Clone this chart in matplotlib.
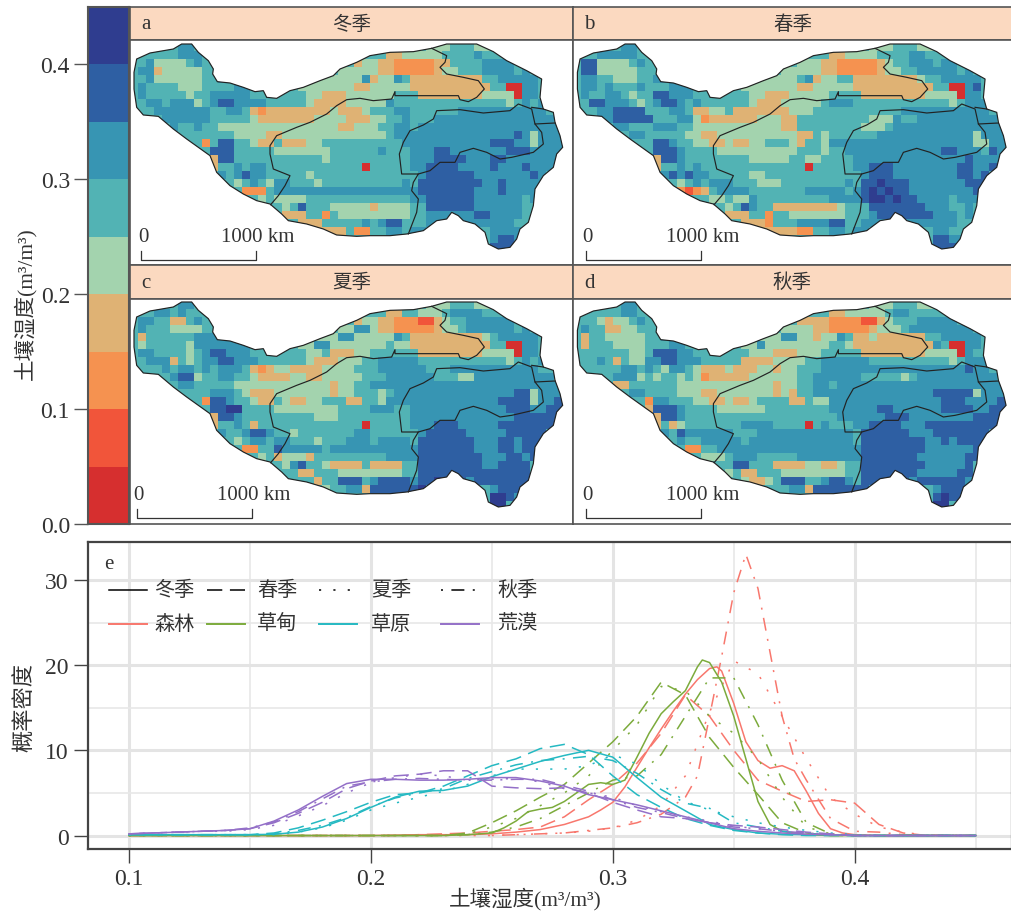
import matplotlib
matplotlib.use('Agg')
import matplotlib.pyplot as plt
from matplotlib.colors import ListedColormap, BoundaryNorm
from matplotlib.lines import Line2D
from matplotlib.patches import Polygon
import numpy as np

plt.rcParams['font.family'] = ['Liberation Serif', 'Noto Sans CJK SC']

W, H = 1012, 912
seasons = ['冬季', '春季', '夏季', '秋季']
letters = ['a', 'b', 'c', 'd']
biomes = ['森林', '草甸', '草原', '荒漠']

class_edges = [0, .05, .1, .15, .2, .25, .3, .35, .4, .45]
class_colors = ['#d62f2f', '#f1553a', '#f59250', '#dfb274', '#a3d3ae',
                '#52b3b4', '#3795b3', '#2e5fa3', '#2f3d8f']
biome_colors = ['#f8776d', '#7cab3c', '#25b9c2', '#9470c8']
text_color = '#333333'

# map cells, one char per cell, index into class_colors, . is no data
winter_cells = [
    '..... 566.. ..... ..... ..... ..... ..... ..444 55544 ..... .....',
    '..555 56665 5.... ..... ..... ..... ..334 44445 55565 5.... .....',
    '.5644 44565 ..... ..... ..... ...34 43322 22233 55556 666.. .....',
    '.6634 44445 5.... ..... ..... .4444 43322 22234 45556 66656 .....',
    '.5644 44445 56... ..... ...44 44446 34465 33333 33335 56666 6....',
    '.6555 54445 55566 5.... .4444 44433 44444 33333 33333 55006 6....',
    '.6555 55455 66666 55... ..443 33444 44455 53333 33334 44406 6....',
    '.5665 66645 67766 66555 55433 33444 44655 55555 55555 55456 56...',
    '.5566 66666 55665 32333 33333 43334 55566 55555 56666 66666 665..',
    '...56 66666 55555 43333 33344 44333 44556 55566 66666 66666 6665.',
    '..... 65565 54444 44444 44444 43344 45566 56666 66666 66666 66666',
    '..... ..555 55544 44334 44444 44444 44566 66666 66666 66676 46666',
    '..... ...52 57755 43353 33445 55555 55556 66666 66666 77766 46666',
    '..... ....5 77755 55544 44444 55555 56555 66677 66666 66777 66666',
    '..... ..... 37755 55555 55554 55555 55555 66677 77666 77666 66666',
    '..... ..... 35565 66555 55555 55550 55555 66777 76666 76667 66676',
    '..... ..... .6567 66555 55455 55555 55555 .6777 77766 66666 76...',
    '..... ..... ..545 65466 55545 55555 55556 .7777 77776 67666 66...',
    '..... ..... ...52 22566 66666 66666 66666 67777 77766 67666 6....',
    '..... ..... ..... .4544 44555 55555 55555 66777 77766 66665 6....',
    '..... ..... ..... ...54 57555 44444 34444 55777 77766 66665 .....',
    '..... ..... ..... ....3 33552 54444 44444 55666 66677 66665 .....',
    '..... ..... ..... ..... .3335 55556 56775 55666 .6666 66655 .....',
    '..... ..... ..... ..... ...33 33522 55665 66... ..... 66665 .....',
    '..... ..... ..... ..... ..... ..... ..... ..... ..... 67765 .....',
    '..... ..... ..... ..... ..... ..... ..... ..... ..... 777.. .....',
]
spring_cells = [
    '..... 566.. ..... ..... ..... ..... ..... ..444 55544 ..... .....',
    '..566 66655 5.... ..... ..... ..... ..334 44455 55665 5.... .....',
    '.7744 44565 ..... ..... ..... ...44 43322 22234 55666 566.. .....',
    '.7744 44455 5.... ..... ..... .4444 43322 22234 45566 66656 .....',
    '.6655 44455 66... ..... ...44 44456 34455 33333 33345 56666 6....',
    '.6656 55565 55666 5.... .4444 44433 44444 33333 33333 55006 7....',
    '.6556 65455 77666 55... ..443 33444 44555 53333 33334 44406 6....',
    '.5776 66545 67765 65555 55433 34444 45666 55555 55555 55456 66...',
    '.5566 77775 55665 33445 33333 33444 55555 55555 56666 66666 665..',
    '...66 77777 55566 42333 33344 43355 55555 55444 65566 66666 6665.',
    '..... 66555 66655 44444 44444 43355 55555 54445 66666 66666 66666',
    '..... ..665 55554 43344 44444 44433 54555 55566 66666 66666 46666',
    '..... ...55 77655 44334 33445 55435 54666 66666 66666 66666 44666',
    '..... ....5 77765 55544 44444 44455 54556 66666 66666 67766 65766',
    '..... ..... 37765 55555 55444 44554 45555 66666 66666 66667 66666',
    '..... ..... 35565 65555 55555 55550 55555 66777 66666 66677 66776',
    '..... ..... .6767 66555 55445 55555 55555 .6777 66666 66677 67...',
    '..... ..... ..545 65666 55544 45555 55556 .7787 77666 66667 77...',
    '..... ..... ...21 23566 66555 55556 66665 67878 77666 66666 7....',
    '..... ..... ..... .5445 44655 55555 55666 67887 87766 66566 6....',
    '..... ..... ..... ...54 57655 33333 33345 55777 77776 66556 .....',
    '..... ..... ..... ....3 33552 55444 44445 55677 77777 66656 .....',
    '..... ..... ..... ..... .3332 55566 66775 56666 .6666 66655 .....',
    '..... ..... ..... ..... ...33 33322 55665 66... ..... 66556 .....',
    '..... ..... ..... ..... ..... ..... ..... ..... ..... 77665 .....',
    '..... ..... ..... ..... ..... ..... ..... ..... ..... 777.. .....',
]
summer_cells = [
    '..... 566.. ..... ..... ..... ..... ..... ..444 55544 ..... .....',
    '..566 56555 5.... ..... ..... ..... ..335 54445 66665 5.... .....',
    '.6655 33565 ..... ..... ..... ...34 43322 21134 55666 666.. .....',
    '.6555 44445 5.... ..... ..... .4466 43322 22234 45666 66656 .....',
    '.3555 55566 66... ..... ...44 46644 44465 33333 33334 56666 6....',
    '.4555 55466 66666 5.... .4466 44444 44544 33333 33333 55006 6....',
    '.6655 55456 77666 55... ..445 33344 55555 53333 33334 44406 6....',
    '.5666 35456 67766 65555 55433 34445 56666 65555 55555 55456 56...',
    '.5556 56656 56665 32344 33334 44455 56666 66555 66666 66666 655..',
    '...55 67745 56655 43333 44334 44445 55666 66655 54466 66666 6664.',
    '..... 56655 55544 44444 44444 34455 66666 66666 66666 66666 66666',
    '..... ..555 66654 33344 44444 34455 54566 66666 66666 66677 46666',
    '..... ...52 77655 43354 33445 55335 54666 66666 66666 67777 46677',
    '..... ....5 77885 55544 44444 45555 66655 66666 66666 66777 66777',
    '..... ..... 37765 55555 55544 45555 55555 66666 66666 66677 77777',
    '..... ..... 35565 35555 55555 55550 55555 66677 76666 67777 77777',
    '..... ..... .6556 77655 45555 55566 55555 .6777 77666 66777 77...',
    '..... ..... ..545 66566 55545 55666 56666 .7777 77766 67767 77...',
    '..... ..... ...52 25576 66665 66666 66666 67777 77766 67767 7....',
    '..... ..... ..... .4534 44355 55555 55666 67777 77776 66776 7....',
    '..... ..... ..... ...54 67554 33335 33335 57777 77776 67777 .....',
    '..... ..... ..... ....5 53355 54444 44445 57777 77777 77777 .....',
    '..... ..... ..... ..... .5535 57775 67777 67788 .7677 77777 .....',
    '..... ..... ..... ..... ...54 55663 77777 78... ..... 67777 .....',
    '..... ..... ..... ..... ..... ..... ..... ..... ..... 88765 .....',
    '..... ..... ..... ..... ..... ..... ..... ..... ..... 88... .....',
]
autumn_cells = [
    '..... 566.. ..... ..... ..... ..... ..... ..444 55544 ..... .....',
    '..555 56655 5.... ..... ..... ..... ..334 44445 66555 5.... .....',
    '.5543 44565 ..... ..... ..... ...33 33222 21134 55566 666.. .....',
    '.6553 34455 5.... ..... ..... .4444 33222 22344 45666 66666 .....',
    '.3554 44445 56... ..... ...44 46644 34465 33433 33335 56666 6....',
    '.3555 44445 55665 5.... .4464 44444 44554 33333 33333 65006 6....',
    '.5555 55445 77766 55... ..444 33344 45555 53333 33334 44406 5....',
    '.5565 35446 67766 65555 53333 44445 56666 66555 55555 55456 66...',
    '.5555 56656 54665 43334 33344 34455 56666 66666 66666 66667 665..',
    '...55 66645 45545 42333 33444 44455 66666 65555 54566 66666 6665.',
    '..... 33555 55544 44444 44444 34455 66566 66666 66666 66666 66666',
    '..... ..665 55544 43344 44444 34355 66666 66666 66666 77777 46666',
    '..... ...52 66555 44334 33455 55335 44666 66666 66666 67776 66677',
    '..... ....3 77765 55544 44445 55555 55666 66677 66666 67777 66777',
    '..... ..... 37765 55555 55555 55555 55566 66667 77666 66666 77777',
    '..... ..... 35345 55555 56666 55550 56555 66777 76667 77777 77777',
    '..... ..... .6576 66666 55566 66666 66666 .7777 77666 77777 77...',
    '..... ..... ..565 56666 65666 66666 66666 .7777 77776 67677 77...',
    '..... ..... ...52 25566 66666 66666 66666 67777 77776 66666 7....',
    '..... ..... ..... .4445 66655 55566 66666 67777 77766 66667 7....',
    '..... ..... ..... ...55 77555 33334 43345 57777 77776 66667 .....',
    '..... ..... ..... ....4 53355 54444 44445 57777 77766 66677 .....',
    '..... ..... ..... ..... .4334 57775 56776 57777 .7677 77776 .....',
    '..... ..... ..... ..... ...55 55663 77777 77... ..... 67777 .....',
    '..... ..... ..... ..... ..... ..... ..... ..... ..... 78776 .....',
    '..... ..... ..... ..... ..... ..... ..... ..... ..... 88... .....',
]
season_cells = [winter_cells, spring_cells, summer_cells, autumn_cells]

outline = [(20, 60), (60, 42), (130, 30), (155, 15), (185, 15), (205, 40), (235, 65), (250, 90),
           (248, 105), (262, 128), (300, 132), (340, 145), (375, 158), (400, 155), (410, 175),
           (440, 178), (480, 155), (520, 145), (570, 125), (610, 110), (630, 90), (680, 70),
           (720, 50), (780, 40), (850, 38), (905, 28), (950, 15), (1040, 15), (1090, 38),
           (1130, 65), (1190, 95), (1235, 120), (1230, 175), (1240, 210), (1270, 220), (1275, 250),
           (1290, 290), (1298, 325), (1280, 345), (1270, 385), (1240, 410), (1215, 450), (1210, 500),
           (1195, 550), (1170, 570), (1160, 600), (1140, 625), (1105, 630), (1075, 615), (1065, 580),
           (1035, 555), (1000, 545), (985, 530), (965, 520), (950, 540), (920, 545), (880, 575),
           (830, 585), (780, 590), (720, 590), (680, 592), (620, 588), (580, 570), (530, 555),
           (475, 545), (455, 525), (420, 495), (380, 485), (340, 465), (300, 440), (280, 420),
           (260, 400), (240, 350), (205, 325), (170, 300), (130, 270), (85, 232), (40, 228),
           (20, 205), (12, 150), (12, 100)]
boundary_north = [(905, 28), (950, 50), (945, 70), (930, 85), (950, 105), (1000, 115), (1045, 125),
                  (1063, 150), (1040, 175), (1015, 188), (990, 182), (985, 170), (940, 170), (860, 170),
                  (795, 170), (795, 158), (785, 180), (730, 185), (690, 178), (650, 182), (620, 200),
                  (590, 225), (540, 250), (500, 265), (440, 290), (420, 320), (420, 345), (430, 390),
                  (480, 410), (465, 440), (445, 470), (422, 497)]
boundary_mid = [(1275, 252), (1215, 255), (1205, 210), (1165, 195), (1140, 215), (1060, 222), (990, 212),
                (920, 215), (910, 240), (880, 258), (840, 275), (820, 310), (808, 345), (815, 405),
                (865, 405), (850, 430), (845, 455), (865, 480), (860, 520), (835, 585)]
boundary_south = [(865, 405), (900, 395), (930, 370), (975, 370), (990, 340), (1030, 328), (1070, 340),
                  (1110, 360), (1145, 355), (1210, 340), (1240, 315), (1235, 280), (1215, 255)]
boundary_spur = [(1205, 205), (1240, 210)]

# panel boxes in pixels: left, right, strip top, body top, body bottom, map dx, map dy, scale bar x
panels = [(130, 573, 8, 41, 266, 130, 40, 33),
          (573, 1012, 8, 41, 266, 573.4, 40, 37),
          (130, 573, 266, 300, 525, 130, 298, 20),
          (573, 1012, 266, 300, 525, 573.4, 298, 37)]

soil_x = [round(.10 + .01 * i, 2) for i in range(36)]

forest_winter_x = [.10, .20, .21, .22, .24, .25, .26, .27, .28, .29, .295, .30, .305, .31, .315, .32, .325, .33, .335, .34, .343, .345, .35, .355, .36, .365, .37, .375, .38, .385, .39, .395, .40, .41, .45]
forest_winter = [0, 0, .05, .1, .1, .2, .4, .7, 1.3, 2.2, 3, 3.9, 5.7, 8, 10.3, 12.5, 14.6, 16.6, 18.3, 19.6, 19.8, 19.3, 15.5, 11, 8.8, 7.9, 8.2, 7.6, 5.2, 2.6, .8, .3, .1, 0, 0]
forest_spring = [0, 0, 0, 0, 0, 0, 0, 0, 0, 0, 0, 0, .1, .2, .3, .5, .7, 1, 2.2, 4.2, 6, 8.5, 12, 16.5, 14, 10, 6.5, 5.2, 4, 4.2, 3.8, 1.3, .3, 0, 0, 0]
forest_summer = [0, 0, 0, 0, 0, 0, 0, 0, 0, 0, 0, 0, 0, 0, 0, 0, .1, .2, .3, .5, .9, 1.8, 3.5, 7, 14.5, 20.5, 19, 14, 9, 4.5, 2.5, 1, .4, 0, 0, 0]
forest_autumn_x = [.25, .27, .28, .29, .30, .31, .32, .33, .335, .34, .345, .35, .355, .36, .365, .37, .375, .38, .39, .40, .41, .42, .45]
forest_autumn = [0, .2, .3, .6, .9, 1.5, 2.5, 4.5, 7, 14, 21, 28.5, 33, 29, 21.5, 14, 9, 6.5, 2, .5, .4, .1, 0]

meadow_winter_x = [.10, .23, .24, .25, .255, .26, .265, .27, .275, .28, .285, .29, .295, .30, .305, .31, .315, .32, .325, .33, .335, .337, .34, .345, .35, .355, .36, .365, .37, .38, .39, .45]
meadow_winter = [0, 0, .1, .3, .9, 1.7, 2.8, 3.1, 3.3, 4, 5, 6, 6.2, 6, 6.5, 9.2, 12, 14.3, 15.7, 17, 19.8, 20.6, 20.3, 18, 14, 9, 4, 1.3, .5, .1, 0, 0]
meadow_spring = [0, 0, 0, 0, 0, 0, 0, 0, 0, 0, 0, 0, 0, 0, .3, 1.5, 2.9, 4.5, 6, 8.5, 11, 14, 18, 16.5, 11.5, 8, 4.8, 1.5, .3, 0, 0, 0, 0, 0, 0, 0]
meadow_summer = [0, 0, 0, 0, 0, 0, 0, 0, 0, 0, 0, 0, 0, 0, .2, 1, 2, 3.5, 5, 7, 10, 13, 17.5, 17, 14, 12, 9, 4.5, 1, .2, 0, 0, 0, 0, 0, 0]
meadow_autumn = [0, 0, 0, 0, 0, 0, 0, 0, 0, 0, 0, 0, 0, 0, .1, .4, 1, 2, 3.5, 5, 6.5, 7, 9.5, 14, 18.5, 18.5, 13, 6.5, 1.5, .2, 0, 0, 0, 0, 0, 0]

steppe_winter = [.1, .1, .1, .1, .1, .1, .15, .4, 1, 2, 3.3, 4.5, 5.2, 5.3, 5.8, 6.9, 7.8, 8.7, 9.4, 10, 9.2, 6.8, 4.5, 2.9, 1.3, .7, .3, .15, .1, .1, 0, 0, 0, 0, 0, 0]
steppe_spring = [.1, .1, .1, .1, .1, .1, .3, .9, 1.8, 2.8, 3.9, 4.8, 5, 5.8, 7, 8.2, 9, 10.2, 10.7, 9.5, 7, 4.8, 3.3, 2, 1.2, .6, .3, .1, 0, 0, 0, 0, 0, 0, 0, 0]
steppe_summer = [.1, .1, .1, .1, .1, .1, .1, .4, .9, 1.8, 3, 3.8, 4.5, 5.2, 6, 7, 7.8, 7.8, 7.8, 8.2, 9.5, 8.4, 6, 4, 3, 2.2, 1.5, 1, .6, .3, .1, 0, 0, 0, 0, 0]
steppe_autumn = [.1, .1, .1, .1, .1, .1, .2, .6, 1.2, 2.1, 3.4, 4.4, 5, 5.5, 6.7, 7.5, 8.3, 8.8, 9, 9.3, 8.8, 7.3, 5.4, 3.8, 3.2, 1.5, 1, .5, .2, .1, 0, 0, 0, 0, 0, 0]

desert_winter = [.2, .3, .4, .5, .6, .8, 1.7, 3, 4.6, 6.1, 6.6, 6.6, 6.5, 6.5, 6.6, 6.8, 6.8, 6.4, 5.8, 4.8, 4.2, 3.6, 2.9, 2.2, 1.5, .8, .5, .3, .15, .1, 0, 0, 0, 0, 0, 0]
desert_spring = [.2, .3, .4, .5, .6, .8, 1.5, 2.6, 3.9, 5.5, 6.4, 7, 7.2, 7.6, 7.6, 5.8, 5.6, 5.5, 5.6, 5, 3.9, 3, 2.2, 2, 1.5, 1.2, 1, .7, .4, .2, 0, 0, 0, 0, 0, 0]
desert_summer = [.2, .3, .4, .5, .5, .7, 1.2, 2.3, 3.5, 5, 6.2, 6.8, 7.2, 7, 6.5, 6.6, 6.7, 6.3, 5.5, 5, 4.5, 3.5, 2.8, 2.2, 1.7, 1.1, .8, .5, .3, .1, 0, 0, 0, 0, 0, 0]
desert_autumn = [.2, .3, .4, .5, .6, .9, 1.6, 2.8, 4.3, 5.8, 6.3, 6.6, 6.7, 6.6, 6.5, 6.5, 6.6, 6.6, 5.9, 5.2, 4.2, 3.3, 2.7, 2, 1.5, 1, .8, .5, .3, .1, 0, 0, 0, 0, 0, 0]

season_dash = ['-', (0, (10, 5)), (0, (1.4, 8)), (0, (1.3, 5.5, 8.5, 5.5))]

curves = [
    (0, 0, forest_winter_x, forest_winter), (0, 1, soil_x, forest_spring), (0, 2, soil_x, forest_summer), (0, 3, forest_autumn_x, forest_autumn),
    (1, 0, meadow_winter_x, meadow_winter), (1, 1, soil_x, meadow_spring), (1, 2, soil_x, meadow_summer), (1, 3, soil_x, meadow_autumn),
    (2, 0, soil_x, steppe_winter), (2, 1, soil_x, steppe_spring), (2, 2, soil_x, steppe_summer), (2, 3, soil_x, steppe_autumn),
    (3, 0, soil_x, desert_winter), (3, 1, soil_x, desert_spring), (3, 2, soil_x, desert_summer), (3, 3, soil_x, desert_autumn),
]

# legend spots in pixels
legend_handle_x = [109, 207, 319, 441]
legend_text_x = [154, 257, 371, 497]
legend_row_y = [591, 625]


def box(left, right, top, bottom):
    return [left / W, 1 - bottom / H, (right - left) / W, (bottom - top) / H]


def read_cells(rows):
    out = []
    for r in rows:
        r = r.replace(' ', '')
        out.append([np.nan if c == '.' else int(c) + .5 for c in r])
    return np.array(out)


def px_text(x, y, s, **kw):
    fig.text(x / W, 1 - y / H, s, color=text_color, **kw)


fig = plt.figure(figsize=(W / 100, H / 100), dpi=100)
cmap = ListedColormap(class_colors)
norm = BoundaryNorm(range(10), 9)

# colour bar
cax = fig.add_axes(box(88, 129, 8, 525))
for i in range(9):
    cax.axhspan(class_edges[i], class_edges[i + 1], color=class_colors[i], lw=0)
cax.set_ylim(0, .45)
cax.set_xlim(0, 1)
cax.set_xticks([])
cax.set_yticks([0, .1, .2, .3, .4])
cax.set_yticklabels(['0.0', '0.1', '0.2', '0.3', '0.4'], fontsize=17, color=text_color)
cax.tick_params(axis='y', length=10, width=1, color='#555555', pad=3)
for s in cax.spines.values():
    s.set_color('#555555')
    s.set_linewidth(1.5)
px_text(25, 304, '土壤湿度(m³/m³)', rotation=90, ha='center', va='center', fontsize=15.5)

# four maps
for k, p in enumerate(panels):
    left, right, strip_top, body_top, body_bottom, dx, dy, bar_x = p
    sax = fig.add_axes(box(left, right, strip_top, body_top))
    sax.set_facecolor('#fbd9c0')
    sax.set_xticks([])
    sax.set_yticks([])
    sax.text(.5, .5, seasons[k], transform=sax.transAxes, ha='center', va='center', fontsize=14, color=text_color)
    sax.annotate(letters[k], (0, .5), xycoords='axes fraction', xytext=(8, 0), textcoords='offset points',
                 va='center', fontsize=15, color=text_color)
    ax = fig.add_axes(box(left, right, body_top, body_bottom))
    bg = Polygon(outline, closed=True, facecolor=class_colors[5], edgecolor='none', zorder=1)
    ax.add_patch(bg)
    im = ax.imshow(read_cells(season_cells[k]), cmap=cmap, norm=norm, extent=(0, 1320, 636, 12),
                   interpolation='nearest', aspect='auto', zorder=2)
    im.set_clip_path(bg)
    ax.add_patch(Polygon(outline, closed=True, fill=False, edgecolor='#222222', lw=0.85, zorder=3))
    for line in [boundary_north, boundary_mid, boundary_south, boundary_spur]:
        ax.plot([q[0] for q in line], [q[1] for q in line], color='#222222', lw=0.85, zorder=3)
    ax.plot([bar_x, bar_x, bar_x + 345, bar_x + 345], [636, 662, 662, 636], color='#333333', lw=0.9, zorder=3)
    ax.text(bar_x + 6, 592, '0', ha='center', va='center', fontsize=15, color=text_color)
    ax.text(bar_x + 350, 592, '1000 km', ha='center', va='center', fontsize=15, color=text_color)
    ax.set_xlim((left - dx) * 3, (right - dx) * 3)
    ax.set_ylim((body_bottom - dy) * 3, (body_top - dy) * 3)
    ax.set_xticks([])
    ax.set_yticks([])
    for a in (sax, ax):
        for s in a.spines.values():
            s.set_color('#555555')
            s.set_linewidth(1.2)

# density chart
ex = fig.add_axes(box(88, 1012, 543, 850))
ex.set_xlim(.0831, .465)
ex.set_ylim(-1.58, 34.45)
ex.set_xticks([.1, .2, .3, .4])
ex.set_xticklabels(['0.1', '0.2', '0.3', '0.4'], fontsize=17, color=text_color)
ex.set_yticks([0, 10, 20, 30])
ex.set_yticklabels(['0', '10', '20', '30'], fontsize=17, color=text_color)
ex.set_xticks([.15, .25, .35, .45], minor=True)
ex.set_yticks([5, 15, 25], minor=True)
ex.grid(which='major', color='#e4e4e4', lw=2.2)
ex.grid(which='minor', color='#e8e8e8', lw=1.2)
ex.set_axisbelow(True)
ex.tick_params(axis='both', which='major', length=10, width=1, color='#444444', pad=4)
ex.tick_params(axis='both', which='minor', length=0)
for s in ex.spines.values():
    s.set_color('#444444')
    s.set_linewidth(1.6)
for b, d, xs, ys in curves:
    ex.plot(xs, ys, color=biome_colors[b], ls=season_dash[d], lw=1.1)
px_text(104, 565, 'e', ha='left', va='center', fontsize=15)
px_text(525, 899, '土壤湿度(m³/m³)', ha='center', va='center', fontsize=15.5)
px_text(25, 707, '概率密度', rotation=90, ha='center', va='center', fontsize=16)

# legend, first row line types, second row colours
for i in range(4):
    x0 = legend_handle_x[i]
    fig.add_artist(Line2D([x0 / W, (x0 + 38) / W], [1 - legend_row_y[0] / H] * 2, color='black',
                          ls=season_dash[i], lw=1.1))
    fig.add_artist(Line2D([x0 / W, (x0 + 38) / W], [1 - legend_row_y[1] / H] * 2, color=biome_colors[i], lw=1.4))
    px_text(legend_text_x[i], legend_row_y[0], seasons[i], ha='left', va='center', fontsize=14.5)
    px_text(legend_text_x[i], legend_row_y[1], biomes[i], ha='left', va='center', fontsize=14.5)

fig.savefig('out.png', dpi=100)
